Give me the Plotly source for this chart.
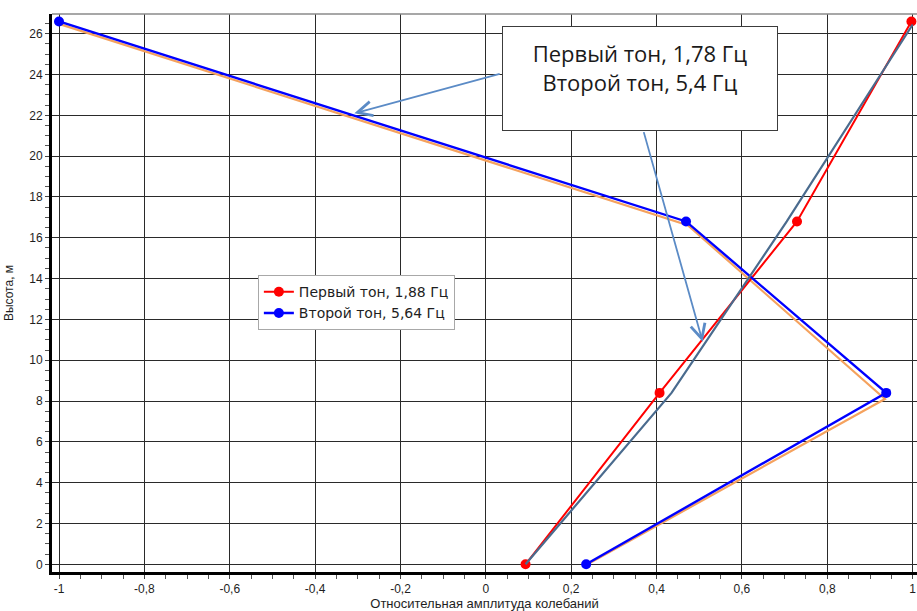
import plotly.graph_objects as go

# Heights of the measurement levels, m
heights = [0, 8.4, 16.8, 26.6]

# Computed mode shapes (relative amplitude)
first_tone_188 = [0.093, 0.407, 0.729, 0.997]
second_tone_564 = [0.235, 0.938, 0.469, -1.0]

# Reference mode shapes drawn for comparison
ref_heights_first = [0, 8.4, 16.8, 26.45]
ref_first_178 = [0.093, 0.435, 0.705, 1.0]
ref_heights_second = [0, 8.1, 16.62, 26.48]
ref_second_54 = [0.238, 0.935, 0.473, -1.0]

# Axis ticks
x_tick_vals = [-1, -0.8, -0.6, -0.4, -0.2, 0, 0.2, 0.4, 0.6, 0.8, 1]
x_tick_text = ["-1", "-0,8", "-0,6", "-0,4", "-0,2", "0", "0,2", "0,4", "0,6", "0,8", "1"]
y_tick_vals = list(range(0, 27, 2))
y_tick_text = [str(v) for v in y_tick_vals]

legend_first = "Первый тон, 1,88 Гц"
legend_second = "Второй тон, 5,64 Гц"
note_text = "Первый тон, 1,78 Гц<br>Второй тон, 5,4 Гц"

TICK_FONT = dict(family="Liberation Sans, Arial, sans-serif", size=12, color="#1e1e1e")
GRID = "#2a2a2a"
ARROW = "#5b8bc6"

fig = go.Figure()

fig.add_trace(go.Scatter(
    x=ref_second_54, y=ref_heights_second, mode="lines",
    line=dict(color="#f5a25e", width=2.2), showlegend=False, hoverinfo="skip"))
fig.add_trace(go.Scatter(
    x=first_tone_188, y=heights, mode="lines+markers", name=legend_first,
    line=dict(color="#ff0000", width=2), marker=dict(color="#ff0000", size=10)))
fig.add_trace(go.Scatter(
    x=second_tone_564, y=heights, mode="lines+markers", name=legend_second,
    line=dict(color="#0000ff", width=2.4), marker=dict(color="#0000ff", size=10)))
fig.add_trace(go.Scatter(
    x=ref_first_178, y=ref_heights_first, mode="lines",
    line=dict(color="#4a6b8e", width=2.2), showlegend=False, hoverinfo="skip"))

# Callout arrows pointing at the reference curves
fig.add_annotation(x=-0.308, y=22.1, ax=0.036, ay=24.05, axref="x", ayref="y",
                   text="", showarrow=True, arrowhead=5, arrowsize=1.6,
                   arrowwidth=1.8, arrowcolor=ARROW)
fig.add_annotation(x=0.508, y=10.9, ax=0.369, ay=21.25, axref="x", ayref="y",
                   text="", showarrow=True, arrowhead=5, arrowsize=1.6,
                   arrowwidth=1.8, arrowcolor=ARROW)

# Callout box
fig.add_annotation(x=0.361, y=23.81, xref="x", yref="y", xanchor="center", yanchor="middle",
                   text=note_text, showarrow=False, align="center", valign="top",
                   width=252, height=81, borderpad=11,
                   bgcolor="#ffffff", bordercolor="#3c3c3c", borderwidth=1,
                   font=dict(family="Open Sans, sans-serif", size=22, color="#1a1a1a"))

# Top border of the plot frame
fig.add_shape(type="line", xref="paper", yref="paper", x0=0, x1=1, y0=1, y1=1,
              line=dict(color="#8a8a8a", width=1.5), layer="above")

fig.update_layout(
    width=917, height=611,
    margin=dict(l=52, r=0, t=14, b=39),
    paper_bgcolor="#ffffff", plot_bgcolor="#ffffff",
    showlegend=True,
    legend=dict(x=0.238, y=0.532, xanchor="left", yanchor="top",
                bgcolor="#ffffff", bordercolor="#a8a8a8", borderwidth=1,
                font=dict(family="DejaVu Sans, sans-serif", size=14, color="#1e1e1e"),
                tracegroupgap=0, itemwidth=30),
    xaxis=dict(range=[-1.0164, 1.0101], tickmode="array",
               tickvals=x_tick_vals, ticktext=x_tick_text,
               showgrid=True, gridcolor=GRID, gridwidth=1.4,
               zeroline=False, showline=True, linecolor="#000000", linewidth=3,
               ticks="outside", ticklen=4, tickcolor="#444", tickfont=TICK_FONT,
               minor=dict(dtick=0.05, tick0=0, ticks="outside", ticklen=4,
                          tickcolor="#555", showgrid=False),
               title=dict(text="Относительная амплитуда колебаний",
                          font=dict(family="Liberation Sans, Arial, sans-serif", size=13,
                                    color="#1e1e1e"),
                          standoff=6)),
    yaxis=dict(range=[-0.377, 26.965], tickmode="array",
               tickvals=y_tick_vals, ticktext=y_tick_text,
               showgrid=True, gridcolor=GRID, gridwidth=1.4,
               zeroline=False, showline=True, linecolor="#000000", linewidth=3,
               ticks="outside", ticklen=4, tickcolor="#444", tickfont=TICK_FONT,
               minor=dict(dtick=0.5, tick0=0, ticks="outside", ticklen=4,
                          tickcolor="#555", showgrid=False),
               title=dict(text="Высота, м",
                          font=dict(family="Liberation Sans, Arial, sans-serif", size=12,
                                    color="#1e1e1e"),
                          standoff=14)),
)

fig.write_html("out.html")
